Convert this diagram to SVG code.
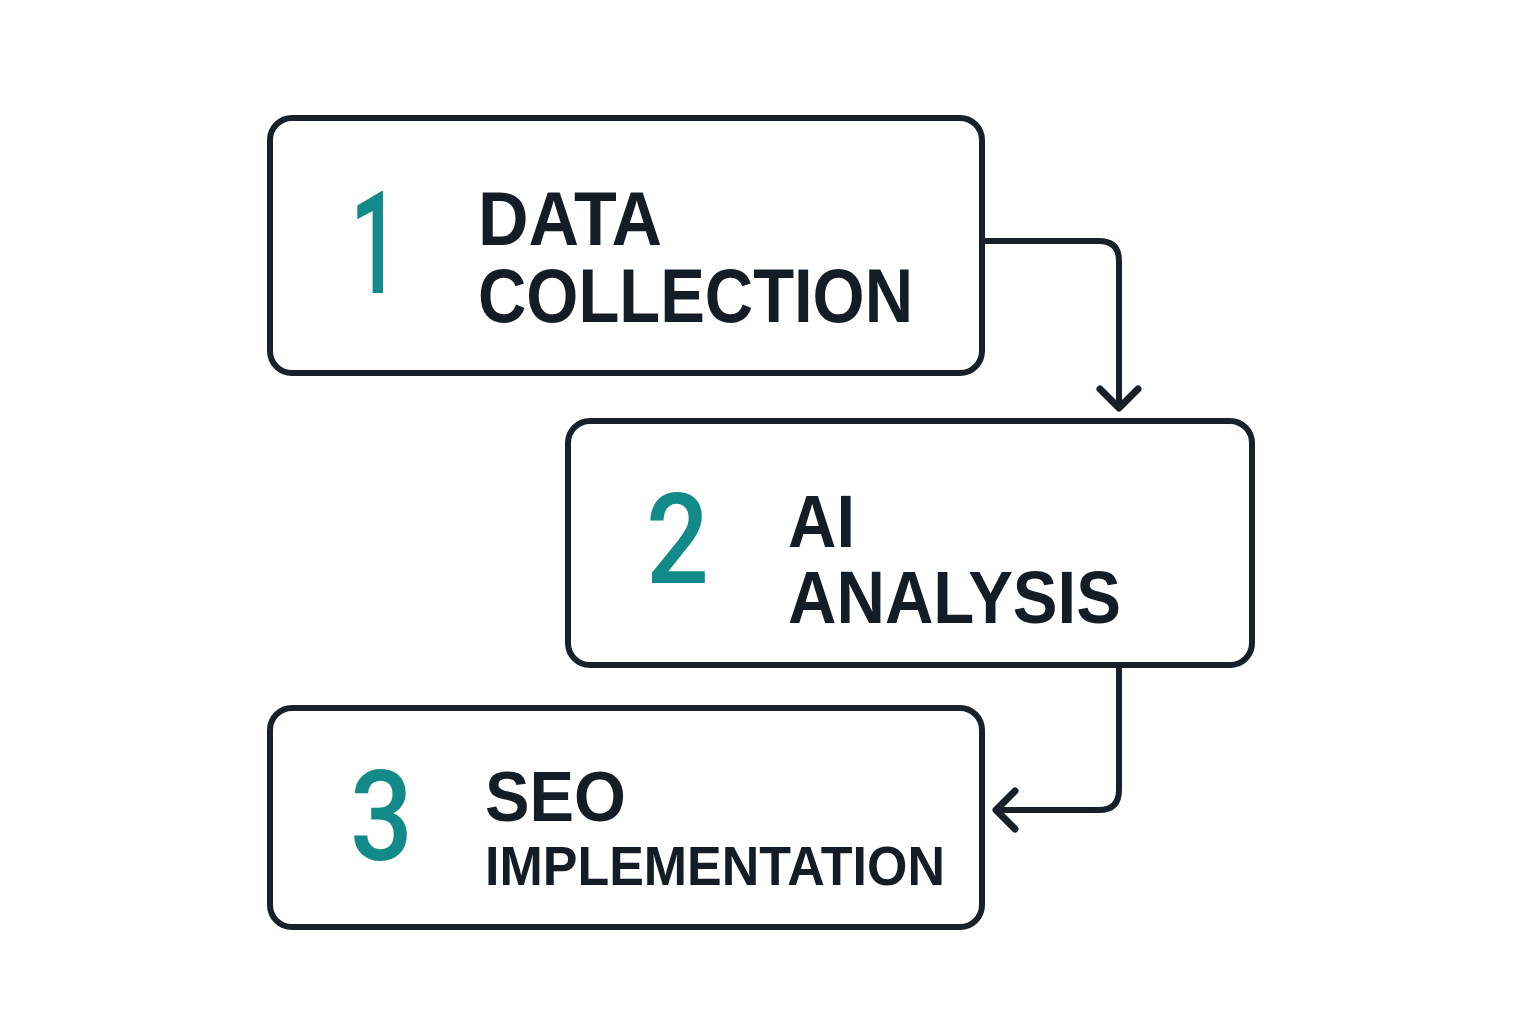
<svg xmlns="http://www.w3.org/2000/svg" width="1536" height="1024" viewBox="0 0 1536 1024">
<defs>
<style>
.box{fill:#ffffff;stroke:#18212a;stroke-width:6}
.num{font-family:Roboto,"Liberation Sans",Arial,sans-serif;font-weight:500;fill:#138a8a}
.lbl{font-family:"Liberation Sans",Arial,sans-serif;font-weight:bold;fill:#141d26}
.conn{fill:none;stroke:#18212a;stroke-width:6;stroke-linecap:round;stroke-linejoin:round}
.head{fill:none;stroke:#18212a;stroke-width:7;stroke-linecap:round;stroke-linejoin:round}
</style>
</defs>
<rect width="1536" height="1024" fill="#ffffff"/>
<g id="node1">
<rect class="box" x="270" y="118" width="712" height="255" rx="22"/>
<text class="num" x="350" y="293" font-size="143" textLength="50" lengthAdjust="spacingAndGlyphs">1</text>
<text class="lbl" x="478" y="245" font-size="76" textLength="184" lengthAdjust="spacingAndGlyphs">DATA</text>
<text class="lbl" x="478" y="322" font-size="76" textLength="435" lengthAdjust="spacingAndGlyphs">COLLECTION</text>
</g>
<g id="node2">
<rect class="box" x="568" y="421" width="684" height="244" rx="22"/>
<text class="num" x="646" y="583" font-size="127" textLength="63" lengthAdjust="spacingAndGlyphs">2</text>
<text class="lbl" x="788" y="547" font-size="74" textLength="67" lengthAdjust="spacingAndGlyphs">AI</text>
<text class="lbl" x="788" y="623" font-size="74" textLength="333" lengthAdjust="spacingAndGlyphs">ANALYSIS</text>
</g>
<g id="node3">
<rect class="box" x="270" y="708" width="712" height="219" rx="22"/>
<text class="num" x="350" y="860" font-size="127" textLength="63" lengthAdjust="spacingAndGlyphs">3</text>
<text class="lbl" x="485" y="821" font-size="71" textLength="141" lengthAdjust="spacingAndGlyphs">SEO</text>
<text class="lbl" x="485" y="885" font-size="56" textLength="460" lengthAdjust="spacingAndGlyphs">IMPLEMENTATION</text>
</g>
<g id="connectors">
<path class="conn" d="M985 241 H1099 Q1119 241 1119 261 V407"/>
<path class="head" d="M1100 389 L1119 408 L1138 389"/>
<path class="conn" d="M1119 668 V790 Q1119 810 1099 810 H997"/>
<path class="head" d="M1015 791 L996 810 L1015 829"/>
</g>
</svg>
